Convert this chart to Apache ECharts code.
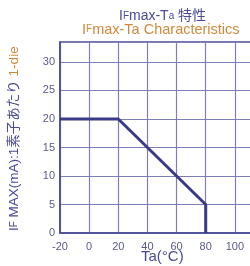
<!DOCTYPE html>
<html><head><meta charset="utf-8">
<script src="https://cdn.jsdelivr.net/npm/echarts@6/dist/echarts.min.js"></script>
<style>html,body{margin:0;padding:0;background:#fff}#c{width:250px;height:266px}</style>
</head><body><div id="c"></div>
<script>
const temps = [-20, 20, 80, 80];
const ifMax = [20, 20, 5, 0];
const xTicks = [-20, 0, 20, 40, 60, 80, 100, 120];
const yTicks = [0, 5, 10, 15, 20, 25, 30];

const blue = '#4a4a98';
const orange = '#d0893a';
const chart = echarts.init(document.getElementById('c'));
chart.setOption({
  animation: false,
  grid: { left: 60, top: 42, width: 204, height: 191, outerBoundsMode: 'none', containLabel: false,
    show: true, borderColor: blue, borderWidth: 1.5 },
  xAxis: {
    type: 'value', min: -20, max: 120, interval: 20,
    axisLine: { show: true, onZero: false, lineStyle: { color: blue, width: 1.5 } },
    axisTick: { show: false },
    splitLine: { show: true, lineStyle: { color: '#7e7eb6', width: 1.2 } },
    axisLabel: { color: '#5a5a8a', fontSize: 11, fontFamily: 'Liberation Sans', margin: 8,
      formatter: v => xTicks.includes(v) ? String(v) : '' }
  },
  yAxis: {
    type: 'value', min: 0, max: 33.5, interval: 5,
    axisLine: { show: true, onZero: false, lineStyle: { color: blue, width: 1.5 } },
    axisTick: { show: false },
    splitLine: { show: true, lineStyle: { color: '#7e7eb6', width: 1.2 } },
    axisLabel: { color: '#5a5a8a', fontSize: 11, fontFamily: 'Liberation Sans', margin: 5,
      showMaxLabel: false,
      formatter: v => yTicks.includes(v) ? String(v) : '' }
  },
  series: [{
    type: 'line', data: temps.map((t, i) => [t, ifMax[i]]),
    symbol: 'none', lineStyle: { color: '#3a3a88', width: 3 }
  }],
  graphic: [
    { type: 'text', x: 119, y: 9, style: { text: '{b|I}{bs|F}{b|max-T}{bs|a}{b| 特性}', rich: {
        b: { fill: blue, fontSize: 14, fontFamily: 'Liberation Sans, Noto Sans CJK JP' },
        bs: { fill: blue, fontSize: 10, fontFamily: 'Liberation Sans' } } } },
    { type: 'text', x: 82, y: 22, style: { text: '{o|I}{os|F}{o|max-Ta Characteristics}', rich: {
        o: { fill: orange, fontSize: 14.5, fontFamily: 'Liberation Sans' },
        os: { fill: orange, fontSize: 10, fontFamily: 'Liberation Sans' } } } },
    { type: 'text', x: 7, y: 231, rotation: Math.PI / 2, style: {
        text: '{b|I}{bs|F}{b| MAX(mA):1素子あたり }{o|1-die}', rich: {
        b: { fill: blue, fontSize: 13.5, fontFamily: 'Liberation Sans, Noto Sans CJK JP' },
        bs: { fill: blue, fontSize: 10, fontFamily: 'Liberation Sans' },
        o: { fill: orange, fontSize: 13.5, fontFamily: 'Liberation Sans' } } } },
    { type: 'text', x: 141, y: 249, style: { text: 'Ta(°C)', fill: blue, fontSize: 15, fontFamily: 'Liberation Sans' } }
  ]
});
</script></body></html>
